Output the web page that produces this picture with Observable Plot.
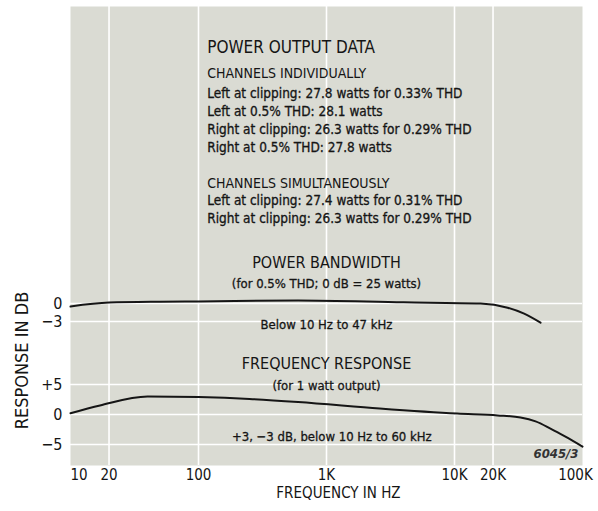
<!DOCTYPE html>
<html><head><meta charset="utf-8">
<script src="https://cdn.jsdelivr.net/npm/d3@7"></script>
<script src="https://cdn.jsdelivr.net/npm/@observablehq/plot@0.6"></script>
<style>
html,body{margin:0;padding:0;background:#fff;}
#chart svg{display:block;}
</style></head><body><div id="chart"></div>
<script>
// ---- data ----
const xTickValues = [10, 20, 100, 1000, 10000, 20000, 100000];
const xTickLabels = ["10", "20", "100", "1K", "10K", "20K", "100K"];
const gridFreqs = [20, 100, 1000, 10000, 20000];

const powerFreq = [10, 20, 50, 100, 600, 4000, 16000, 26000, 35000, 47000];
const powerDb   = [-0.5, 0.15, 0.3, 0.35, 0.5, 0.2, 0, -0.7, -1.7, -3.2];

const respFreq = [10, 17, 40, 100, 250, 600, 2600, 10500, 21700, 32800, 43000, 56200, 73600, 100000];
const respDb   = [0.2, 1.5, 3.0, 2.9, 2.6, 2.1, 1.0, 0.15, -0.15, -0.5, -1.15, -2.35, -3.7, -5.35];

const powerTickDb = [0, -3];
const powerTickLabels = ["0", "−3"];
const respTickDb = [5, 0, -5];
const respTickLabels = ["+5", "0", "−5"];

const titleText = "POWER OUTPUT DATA";
const indivHeading = "CHANNELS INDIVIDUALLY";
const indivLines = [
  "Left at clipping: 27.8 watts for 0.33% THD",
  "Left at 0.5% THD: 28.1 watts",
  "Right at clipping: 26.3 watts for 0.29% THD",
  "Right at 0.5% THD: 27.8 watts"
];
const simHeading = "CHANNELS SIMULTANEOUSLY";
const simLines = [
  "Left at clipping: 27.4 watts for 0.31% THD",
  "Right at clipping: 26.3 watts for 0.29% THD"
];
const powerTitle = "POWER BANDWIDTH";
const powerSub = "(for 0.5% THD; 0 dB = 25 watts)";
const powerNote = "Below 10 Hz to 47 kHz";
const respTitle = "FREQUENCY RESPONSE";
const respSub = "(for 1 watt output)";
const respNote = "+3, −3 dB, below 10 Hz to 60 kHz";
const figId = "6045/3";
const xLabel = "FREQUENCY IN HZ";
const yLabel = "RESPONSE IN DB";

// ---- build ----
const POWER_OFFSET = 18.5; // vertical stacking of the two curves on one panel
const power = powerFreq.map((f, i) => ({f, v: powerDb[i] + POWER_OFFSET}));
const resp = respFreq.map((f, i) => ({f, v: respDb[i]}));
const yTicks = [...powerTickDb.map(d => d + POWER_OFFSET), ...respTickDb];
const yLabels = [...powerTickLabels, ...respTickLabels];
const yFmt = new Map(yTicks.map((t, i) => [t, yLabels[i]]));
const xFmt = new Map(xTickValues.map((t, i) => [t, xTickLabels[i]]));

const FONT = "'Liberation Sans Narrow', 'DejaVu Sans Condensed', 'Roboto Condensed', 'Liberation Sans', sans-serif";
const INK = "#151515";
const LEFT_F = 117;   // left edge of the data block
const MID_F = 1000;
const heavy = {fill: INK, stroke: INK, strokeWidth: 0.3};

const chart = Plot.plot({
  width: 598,
  height: 511,
  marginLeft: 70,
  marginRight: 16,
  marginTop: 6,
  marginBottom: 46,
  style: {fontFamily: FONT, color: INK, background: "white", overflow: "visible"},
  x: {type: "log", domain: [10, 100000]},
  y: {domain: [-8.5, 68]},
  marks: [
    Plot.frame({fill: "#dadbd3", stroke: null}),
    Plot.ruleX(gridFreqs, {stroke: "white", strokeWidth: 1.6}),
    Plot.ruleY(yTicks, {stroke: "white", strokeWidth: 1.6}),
    Plot.axisY({ticks: yTicks, tickFormat: d => yFmt.get(d), tickSize: 0, tickPadding: 8, fontSize: 16, label: null}),
    Plot.axisX({ticks: [xTickValues[0]], tickFormat: d => xFmt.get(d), tickSize: 0, tickPadding: 4, fontSize: 15, textAnchor: "start", label: null}),
    Plot.axisX({ticks: xTickValues.slice(1, -1), tickFormat: d => xFmt.get(d), tickSize: 0, tickPadding: 4, fontSize: 15, label: null}),
    Plot.axisX({ticks: xTickValues.slice(-1), tickFormat: d => xFmt.get(d), tickSize: 0, tickPadding: 4, fontSize: 15, dx: -7, label: null}),
    Plot.text([xLabel], {x: 1240, frameAnchor: "bottom", dy: 32, fontSize: 15, text: d => d}),
    Plot.text([yLabel], {y: 9, frameAnchor: "left", textAnchor: "middle", dx: -48, rotate: -90, fontSize: 18, text: d => d}),

    Plot.line(power, {x: "f", y: "v", curve: "monotone-x", stroke: INK, strokeWidth: 2}),
    Plot.line(resp, {x: "f", y: "v", curve: "monotone-x", stroke: INK, strokeWidth: 2}),

    Plot.text([titleText], {x: LEFT_F, y: 61.2, textAnchor: "start", fontSize: 17, text: d => d}),
    Plot.text([indivHeading], {x: LEFT_F, y: 56.8, textAnchor: "start", fontSize: 14, text: d => d}),
    Plot.text(indivLines, {x: LEFT_F, y: (d, i) => 53.5 - 3 * i, textAnchor: "start", fontSize: 13.5, ...heavy, text: d => d}),
    Plot.text([simHeading], {x: LEFT_F, y: 38.5, textAnchor: "start", fontSize: 14, text: d => d}),
    Plot.text(simLines, {x: LEFT_F, y: (d, i) => 35.7 - 3 * i, textAnchor: "start", fontSize: 13.5, ...heavy, text: d => d}),

    Plot.text([powerTitle], {x: MID_F, y: 25.2, fontSize: 16, text: d => d}),
    Plot.text([powerSub], {x: MID_F, y: 21.8, fontSize: 13, ...heavy, text: d => d}),
    Plot.text([powerNote], {x: MID_F, y: 15.0, fontSize: 13, ...heavy, text: d => d}),
    Plot.text([respTitle], {x: MID_F, y: 8.5, fontSize: 16, text: d => d}),
    Plot.text([respSub], {x: MID_F, y: 4.7, fontSize: 13, ...heavy, text: d => d}),
    Plot.text([respNote], {x: 1100, y: -3.8, fontSize: 13, ...heavy, text: d => d}),
    Plot.text([figId], {x: 93000, y: -6.5, textAnchor: "end", fontSize: 13, fontStyle: "italic", fontWeight: "bold", fill: "#333", text: d => d})
  ]
});
document.getElementById("chart").append(chart);
</script></body></html>
